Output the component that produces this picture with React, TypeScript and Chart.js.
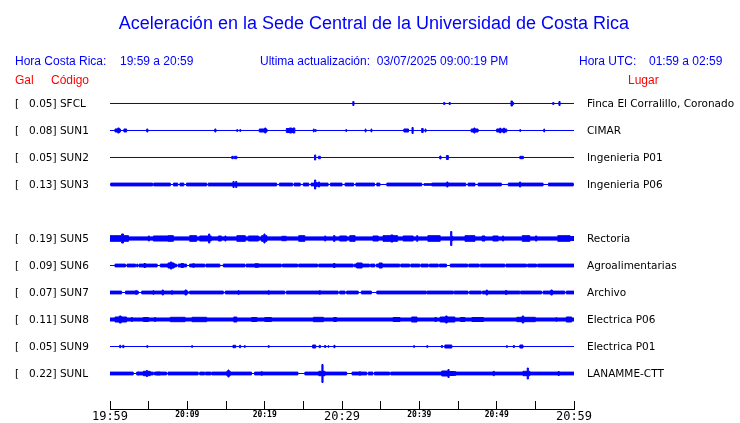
import React, { useEffect, useRef } from 'react';
import { Chart, registerables } from 'chart.js';

Chart.register(...registerables);

// ---------- data ----------
const STATIONS = ['SFCL', 'SUN1', 'SUN2', 'SUN3', 'SUN5', 'SUN6', 'SUN7', 'SUN8', 'SUN9', 'SUNL'];
const ROWS = [0, 1, 2, 3, 5, 6, 7, 8, 9, 10];
const PEAK_GAL = ['0.05', '0.08', '0.05', '0.13', '0.19', '0.09', '0.07', '0.11', '0.05', '0.22'];
const PLACES = [
  'Finca El Corralillo, Coronado', 'CIMAR', 'Ingenieria P01', 'Ingenieria P06', 'Rectoria',
  'Agroalimentarias', 'Archivo', 'Electrica P06', 'Electrica P01', 'LANAMME-CTT',
];
const TIME_TICKS = ['19:59', '20:09', '20:19', '20:29', '20:39', '20:49', '20:59'];

// envelope breakpoints: [minute since 19:59, half amplitude (1/27 of a row)]
const ENV_SFCL = [[0, 0], [31.4, 2], [31.55, 0], [43.15, 1], [43.3, 0], [43.85, 1], [44.0, 0], [51.85, 2.5], [52.05, 1], [52.2, 0], [57.25, 1], [57.4, 0], [58.05, 2], [58.2, 0], [60, 0]];
const ENV_SUN1 = [[0, 0], [0.65, 1.5], [1.0, 2.5], [1.2, 1.5], [1.35, 0], [1.8, 1.5], [2.15, 0], [4.75, 1.5], [4.9, 0], [13.55, 1.5], [13.7, 0], [16.4, 1], [16.5, 0], [16.8, 1], [16.9, 0], [19.3, 1.5], [20.0, 2.5], [20.15, 1.5], [20.3, 0], [22.8, 2], [23.2, 2.5], [23.5, 2], [23.65, 2.5], [23.9, 0], [26.3, 1.5], [26.4, 0], [26.55, 1], [26.65, 0], [30.5, 1], [30.6, 0], [33.0, 1.5], [33.1, 0], [33.75, 1.5], [33.85, 0], [38.0, 1.5], [38.6, 0], [39.05, 3], [39.2, 0], [40.3, 2], [40.5, 0], [40.75, 1.5], [40.85, 0], [46.7, 1.5], [47.05, 2.5], [47.2, 1.5], [47.6, 0], [50.0, 1.5], [50.4, 2.5], [50.5, 1.5], [50.9, 2.5], [51.0, 1.5], [51.3, 0], [53.0, 1], [53.1, 0], [56.1, 1.5], [56.2, 0], [60, 0]];
const ENV_SUN2 = [[0, 0], [15.75, 1.2], [15.95, 0], [16.1, 1.2], [16.4, 0], [26.45, 2.5], [26.6, 0], [26.95, 1.2], [27.2, 0], [42.65, 1.5], [42.8, 0], [43.5, 2], [43.75, 0], [53.0, 1.2], [53.45, 0], [60, 0]];
const ENV_SUN3 = [[0, 0], [0.1, 1.4], [5.5, 0], [5.65, 1.4], [7.8, 0], [8.2, 1.4], [8.75, 0], [9.05, 1.4], [9.55, 0], [9.9, 1.4], [12.5, 0], [12.7, 1.4], [15.9, 3], [16.05, 1.4], [16.25, 3], [16.4, 1.4], [21.55, 0], [21.9, 1.4], [23.6, 0], [23.8, 1.4], [24.6, 0], [25.0, 1.4], [25.7, 0], [26.0, 1.4], [26.45, 4.5], [26.6, 2], [26.8, 1.4], [26.95, 2.5], [27.1, 1.4], [28.2, 0], [28.5, 1.4], [30.0, 0], [30.4, 1.4], [31.5, 0], [31.8, 1.4], [34.2, 0], [34.5, 1.4], [34.9, 0], [35.8, 1.4], [40.3, 0], [40.6, 0.8], [41.6, 1.4], [43.55, 2.5], [43.7, 1.4], [46.0, 0], [46.3, 1.4], [47.2, 0], [47.6, 1.4], [50.6, 0], [51.5, 1.4], [52.95, 2.5], [53.1, 1.4], [56.0, 0], [56.7, 1.4], [59.9, 0], [60, 0]];
const ENV_SUN5 = [[0, 2.8], [1.5, 4.5], [1.75, 2.8], [2.4, 1.6], [4.95, 2.5], [5.1, 1.6], [5.6, 2.5], [7.5, 2.8], [8.2, 1.6], [10.3, 2.8], [11.2, 1.6], [11.6, 2.5], [12.75, 4.5], [12.9, 2.5], [13.1, 1.6], [14.0, 2.5], [14.4, 1.6], [14.85, 2.5], [15.0, 1.6], [16.4, 2.8], [17.5, 1.6], [17.9, 2.5], [19.2, 1.6], [19.6, 2.8], [19.9, 4.5], [20.05, 2.8], [20.3, 1.6], [22.2, 2.2], [22.8, 1.6], [24.4, 2.8], [25.2, 1.6], [27.75, 2.5], [27.9, 1.6], [28.9, 2.8], [29.1, 1.6], [29.7, 2.5], [30.6, 1.6], [31.0, 2.8], [31.7, 1.6], [34.0, 2.5], [34.7, 1.6], [35.3, 2.8], [36.3, 3.5], [36.6, 2.8], [37.2, 1.6], [37.9, 2.5], [39.2, 1.6], [39.65, 2.8], [39.8, 1.6], [41.1, 2.8], [42.7, 1.6], [44.05, 7], [44.2, 2], [44.35, 1.6], [45.9, 2.8], [47.2, 1.6], [48.1, 2.5], [48.5, 1.6], [49.5, 2.5], [50.2, 1.6], [50.75, 2.5], [50.9, 1.6], [53.3, 2.8], [54.3, 1.6], [55.0, 2.5], [55.2, 1.6], [57.9, 2.8], [59.5, 2], [60, 2]];
const ENV_SUN6 = [[0, 0], [0.65, 1.4], [2.0, 0], [2.2, 1.4], [3.3, 0], [3.45, 1.4], [3.6, 0], [3.75, 1.4], [4.4, 2], [4.6, 1.4], [6.1, 0], [6.5, 1.4], [7.5, 2.5], [7.8, 3.5], [8.0, 2.5], [8.3, 1.4], [8.6, 0], [8.8, 1.4], [9.2, 2], [9.5, 1.4], [9.9, 0], [10.3, 1.4], [10.7, 1.8], [10.9, 1.4], [12.25, 0], [12.4, 1.4], [14.2, 0], [14.65, 1.4], [17.45, 0], [17.6, 1.4], [18.75, 1.8], [19.2, 1.4], [22.15, 0], [22.3, 1.4], [24.25, 0], [24.4, 1.4], [26.85, 0], [27.0, 1.4], [28.9, 2], [29.1, 1.4], [31.45, 0], [31.6, 1.4], [31.9, 2.5], [32.6, 1.4], [33.55, 0], [33.7, 1.4], [34.25, 0], [34.45, 1.4], [34.8, 2.5], [35.2, 1.4], [37.45, 0], [37.6, 1.4], [38.75, 0], [38.9, 1.4], [40.05, 0], [40.2, 1.4], [41.15, 0], [41.3, 1.4], [42.45, 0], [42.6, 1.4], [43.5, 0], [44.0, 1.4], [46.25, 0], [46.4, 1.4], [47.75, 0], [47.9, 1.4], [51.05, 0], [51.2, 1.4], [53.85, 0], [54.0, 1.4], [55.15, 0], [55.3, 1.4], [60, 1.4]];
const ENV_SUN7 = [[0, 1.4], [1.5, 0], [2.0, 1.4], [3.3, 1.8], [3.5, 1.4], [3.66, 0], [4.1, 1.4], [5.55, 1.8], [5.7, 1.4], [6.75, 2.5], [6.9, 1.4], [7.95, 1.8], [8.1, 1.4], [9.7, 2.5], [9.9, 1.4], [10.1, 0], [10.3, 1.4], [14.65, 0], [14.9, 1.4], [16.55, 1.8], [16.7, 1.4], [20.45, 1.8], [20.6, 1.4], [22.6, 0], [22.8, 1.4], [27.05, 1.8], [27.2, 1.4], [29.5, 0], [29.7, 1.4], [30.4, 0], [30.6, 1.4], [32.1, 0], [32.5, 1.4], [33.8, 0], [34.5, 1.4], [40.9, 0], [41.0, 1.4], [44.4, 0], [44.5, 1.4], [46.3, 0], [46.5, 1.4], [48.0, 0], [48.15, 1.4], [48.65, 2.5], [48.8, 1.4], [51.15, 2], [51.3, 1.4], [53.0, 0], [53.1, 1.4], [55.8, 0], [56.0, 1.4], [57.0, 2.5], [57.2, 1.4], [58.8, 0], [59.0, 1.4], [60, 1.4]];
const ENV_SUN8 = [[0, 1.5], [0.65, 2.5], [1.2, 3.5], [1.45, 2.5], [2.15, 1.5], [2.75, 2], [2.9, 1.5], [4.3, 2], [5.0, 1.5], [5.75, 2], [5.9, 1.5], [7.8, 2.2], [9.7, 1.5], [10.6, 2.2], [12.5, 1.5], [16.0, 2.5], [16.4, 1.5], [18.3, 2], [19.0, 1.5], [20.0, 2], [20.9, 1.5], [26.3, 2.2], [27.6, 1.5], [28.9, 2], [29.3, 1.5], [36.6, 2], [37.5, 1.5], [39.0, 2.5], [39.7, 1.5], [42.0, 2], [42.2, 1.5], [42.7, 2.5], [43.4, 3.5], [43.6, 2.5], [44.6, 1.5], [45.3, 2], [45.9, 1.5], [46.8, 2], [48.3, 1.5], [52.6, 2.2], [53.3, 3.5], [53.5, 2.2], [55.0, 1.5], [57.65, 1.8], [57.8, 1.5], [59.0, 2.5], [59.7, 1.5], [60, 1.5]];
const ENV_SUN9 = [[0, 0], [1.25, 1.2], [1.4, 0], [1.65, 1.2], [1.8, 0], [4.75, 0.8], [4.9, 0], [10.55, 0.8], [10.7, 0], [15.9, 1.2], [16.25, 0], [16.75, 1.2], [16.9, 0], [17.35, 0.8], [17.5, 0], [20.45, 0.8], [20.6, 0], [26.2, 1.5], [26.6, 0], [27.05, 1.2], [27.2, 0], [27.75, 1], [27.9, 0], [28.2, 0.8], [28.3, 0], [28.95, 1.2], [29.1, 0], [39.25, 0.8], [39.4, 0], [40.95, 0.8], [41.1, 0], [42.85, 1], [43.0, 0], [43.3, 1.5], [44.2, 0], [51.25, 0.8], [51.4, 0], [52.15, 1], [52.3, 0], [53.0, 1.5], [53.4, 0], [60, 0]];
const ENV_SUNL = [[0, 1.4], [3.0, 0], [3.45, 1.4], [3.6, 1.6], [3.75, 1.4], [4.3, 2.2], [4.7, 3], [4.85, 2.2], [5.2, 1.4], [5.6, 0], [5.75, 1.4], [6.0, 1.6], [6.5, 1.4], [7.3, 0], [7.5, 1.4], [11.4, 0], [11.6, 1.4], [12.25, 0], [12.35, 1.4], [13.05, 0], [13.15, 1.4], [15.1, 2.2], [15.25, 3.5], [15.4, 2.2], [15.55, 1.4], [18.3, 0], [18.7, 1.4], [19.55, 1.8], [19.7, 1.4], [24.3, 0], [25.2, 1.4], [27.0, 2.2], [27.4, 9], [27.55, 2.2], [27.8, 1.4], [30.6, 0], [31.3, 1.4], [32.25, 1.8], [32.4, 1.4], [33.2, 0], [33.4, 1.4], [34.0, 0], [34.2, 1.4], [36.15, 0], [36.3, 1.4], [42.9, 2.5], [43.7, 4], [43.85, 2], [44.55, 2], [44.7, 1.4], [49.55, 2.2], [49.7, 1.4], [53.4, 2.2], [53.95, 5.5], [54.1, 2.2], [54.3, 1.4], [57.95, 2], [58.1, 1.4], [60, 1.4]];

const ENVELOPES = [ENV_SFCL, ENV_SUN1, ENV_SUN2, ENV_SUN3, ENV_SUN5, ENV_SUN6, ENV_SUN7, ENV_SUN8, ENV_SUN9, ENV_SUNL];
const AMP_SCALE = 1 / 27;

// ---------- styles ----------
const BLUE = '#0000ff';
const RED = '#ff0000';
const HEAD_FONT = '"Liberation Sans", Arial, sans-serif';

const axisLinePlugin = {
  id: 'axisLine',
  afterDraw(chart: any) {
    const { ctx, chartArea, scales } = chart;
    const x0 = Math.round(scales.x.getPixelForValue(0));
    const x1 = Math.round(scales.x.getPixelForValue(60));
    const y = chartArea.bottom + 8.5;
    ctx.save();
    ctx.strokeStyle = '#000';
    ctx.lineWidth = 1;
    ctx.beginPath();
    ctx.moveTo(x0, y);
    ctx.lineTo(x1 + 1, y);
    ctx.stroke();
    ctx.restore();
  },
};

export default function App() {
  const ref = useRef<HTMLCanvasElement | null>(null);

  useEffect(() => {
    if (!ref.current) return;
    const datasets: any[] = [];
    ENVELOPES.forEach((env, i) => {
      const row = ROWS[i];
      const common = {
        stepped: true,
        borderColor: BLUE,
        backgroundColor: BLUE,
        borderWidth: 1,
        pointRadius: 0,
        tension: 0,
      };
      datasets.push({
        ...common,
        label: STATIONS[i] + ' +',
        data: env.map(([t, a]) => ({ x: t, y: row - a * AMP_SCALE })),
        fill: false,
      });
      datasets.push({
        ...common,
        label: STATIONS[i] + ' -',
        data: env.map(([t, a]) => ({ x: t, y: row + a * AMP_SCALE })),
        fill: '-1',
      });
    });

    const rowTicks = (s: any) => {
      s.ticks = ROWS.map((v) => ({ value: v }));
    };

    const chart = new Chart(ref.current, {
      type: 'line',
      data: { datasets },
      plugins: [axisLinePlugin],
      options: {
        animation: false,
        responsive: false,
        devicePixelRatio: 1,
        events: [],
        layout: { padding: { top: 76, left: 15, right: 0, bottom: 0 } },
        plugins: { legend: { display: false }, tooltip: { enabled: false } },
        scales: {
          x: {
            type: 'linear',
            min: 0,
            max: 60,
            afterFit: (s: any) => { s.height = 22; },
            border: { display: false },
            grid: { display: true, drawOnChartArea: false, drawTicks: true, tickLength: 8, color: '#000', lineWidth: 1 },
            ticks: {
              stepSize: 5,
              autoSkip: false,
              maxRotation: 0,
              minRotation: 0,
              padding: 0,
              color: '#000',
              font: (ctx: any) => (ctx.tick && ctx.tick.value % 30 === 0)
                ? { family: '"DejaVu Sans Mono", monospace', size: 12, lineHeight: 1.3 }
                : { family: '"DejaVu Sans Mono", monospace', size: 8, weight: 'bold', lineHeight: 1.5 },
              callback: (v: any) => (Number(v) % 10 === 0 ? TIME_TICKS[Number(v) / 10] : ''),
            },
          },
          y: {
            type: 'linear',
            position: 'left',
            reverse: true,
            min: -1.0185,
            max: 11.0185,
            afterFit: (s: any) => { s.width = 95; },
            afterBuildTicks: rowTicks,
            border: { display: false },
            grid: { display: false, drawTicks: false },
            ticks: {
              autoSkip: false,
              crossAlign: 'far',
              padding: 0,
              labelOffset: 1,
              color: '#000',
              font: { family: '"DejaVu Sans", sans-serif', size: 10.5, lineHeight: 1.0 },
              callback: (_v: any, idx: number) => `[   ${PEAK_GAL[idx]}] ${STATIONS[idx]}`,
            },
          },
          y2: {
            type: 'linear',
            position: 'right',
            reverse: true,
            min: -1.0185,
            max: 11.0185,
            afterFit: (s: any) => { s.width = 166; },
            afterBuildTicks: rowTicks,
            border: { display: false },
            grid: { display: false, drawTicks: false },
            ticks: {
              autoSkip: false,
              padding: 13,
              labelOffset: 1,
              color: '#000',
              font: { family: '"DejaVu Sans", sans-serif', size: 10.5, lineHeight: 1.0 },
              callback: (_v: any, idx: number) => PLACES[idx],
            },
          },
        },
      } as any,
    });
    return () => chart.destroy();
  }, []);

  const txt = (left: number, top: number, size: number, color: string, s: string, extra: any = {}) => (
    <div
      style={{
        position: 'absolute', left, top, fontFamily: HEAD_FONT, fontSize: size, lineHeight: `${size}px`,
        whiteSpace: 'pre', color, ...extra,
      }}
    >
      {s}
    </div>
  );

  return (
    <div style={{ position: 'absolute', left: 0, top: 0, width: 740, height: 423, background: '#fff', overflow: 'hidden' }}>
      <canvas ref={ref} width={740} height={423} style={{ position: 'absolute', left: 0, top: 0, width: 740, height: 423 }} />
      {txt(0, 14.2, 18, BLUE, 'Aceleración en la Sede Central de la Universidad de Costa Rica', { width: 748, textAlign: 'center' })}
      {txt(15, 54.8, 12, BLUE, 'Hora Costa Rica:')}
      {txt(120, 54.8, 12, BLUE, '19:59 a 20:59')}
      {txt(260, 54.8, 12, BLUE, 'Ultima actualización:  03/07/2025 09:00:19 PM')}
      {txt(579, 54.8, 12, BLUE, 'Hora UTC:')}
      {txt(649, 54.8, 12, BLUE, '01:59 a 02:59')}
      {txt(15, 74.3, 12, RED, 'Gal')}
      {txt(51, 74.3, 12, RED, 'Código')}
      {txt(628, 74.3, 12, RED, 'Lugar')}
    </div>
  );
}
